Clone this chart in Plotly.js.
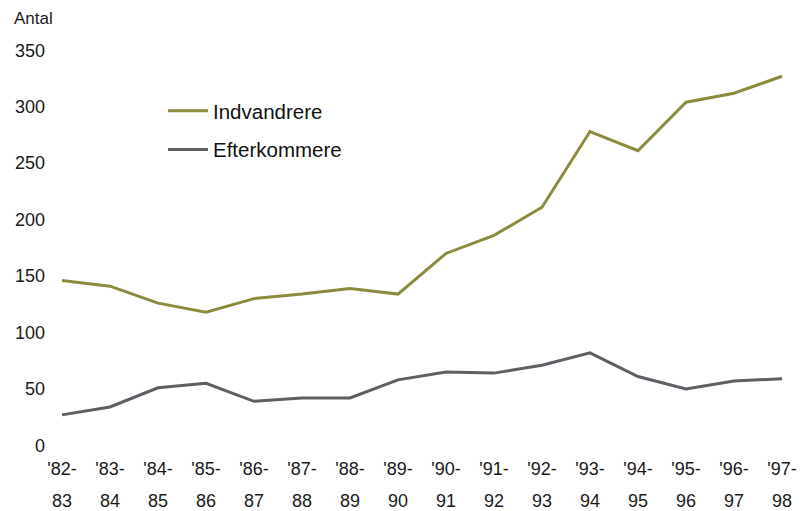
<!DOCTYPE html>
<html><head><meta charset="utf-8">
<script src="https://cdn.plot.ly/plotly-3.0.1.min.js"></script>
<style>html,body{margin:0;padding:0;background:#fff}</style>
</head><body><div id="chart" style="width:801px;height:511px"></div>
<script>
const periods = ["'82-83","'83-84","'84-85","'85-86","'86-87","'87-88","'88-89","'89-90","'90-91","'91-92","'92-93","'93-94","'94-95","'95-96","'96-97","'97-98"];
const startLabels = ["'82-","'83-","'84-","'85-","'86-","'87-","'88-","'89-","'90-","'91-","'92-","'93-","'94-","'95-","'96-","'97-"];
const endLabels = ["83","84","85","86","87","88","89","90","91","92","93","94","95","96","97","98"];
const indvandrere = [146,141,126,118,130,134,139,134,170,186,211,278,261,304,312,327];
const efterkommere = [27,34,51,55,39,42,42,58,65,64,71,82,61,50,57,59];
const yTicks = [0,50,100,150,200,250,300,350];

const FONT = '"Liberation Sans", Arial, sans-serif';
const idx = periods.map((_, i) => i);

const traces = [
  {x: idx, y: indvandrere, name: 'Indvandrere', type: 'scatter', mode: 'lines', legendgroup: 'a',
   line: {color: '#8b8a3d', width: 3}},
  {x: idx, y: efterkommere, name: 'Efterkommere', type: 'scatter', mode: 'lines', legendgroup: 'b',
   line: {color: '#5f5e65', width: 3}},
  {x: idx, y: indvandrere, xaxis: 'x2', type: 'scatter', mode: 'lines',
   line: {width: 0, color: 'rgba(0,0,0,0)'}, showlegend: false, hoverinfo: 'skip'}
];

const layout = {
  width: 801, height: 511,
  margin: {l: 50, r: 7, t: 39, b: 60},
  paper_bgcolor: '#fff', plot_bgcolor: '#fff',
  font: {family: FONT, size: 18, color: '#1a1a1a'},
  title: {text: 'Antal', x: 14/801, xanchor: 'left', xref: 'container',
          y: 1 - 18/511, yref: 'container', yanchor: 'middle',
          font: {family: FONT, size: 17, color: '#1a1a1a'}},
  showlegend: true,
  legend: {x: (163-50)/744, y: 1 - (91-39)/412, xanchor: 'left', yanchor: 'top',
           traceorder: 'grouped', tracegroupgap: 9,
           bgcolor: 'rgba(0,0,0,0)', font: {family: FONT, size: 20.5, color: '#111'},
           itemwidth: 40},
  xaxis: {range: [-0.25, 15.25], tickvals: idx, ticktext: startLabels,
          showgrid: false, zeroline: false, showline: false, ticks: '',
          ticklabelstandoff: 5, fixedrange: true},
  xaxis2: {range: [-0.25, 15.25], tickvals: idx, ticktext: endLabels, overlaying: 'x',
           anchor: 'y', side: 'bottom', showgrid: false, zeroline: false, showline: false,
           ticks: '', ticklabelstandoff: 37, fixedrange: true},
  yaxis: {range: [-5, 360], tickvals: yTicks, showgrid: false, zeroline: false,
          showline: false, ticks: '', ticklabelstandoff: 4, fixedrange: true}
};

Plotly.newPlot('chart', traces, layout, {displayModeBar: false, staticPlot: true});
</script></body></html>
